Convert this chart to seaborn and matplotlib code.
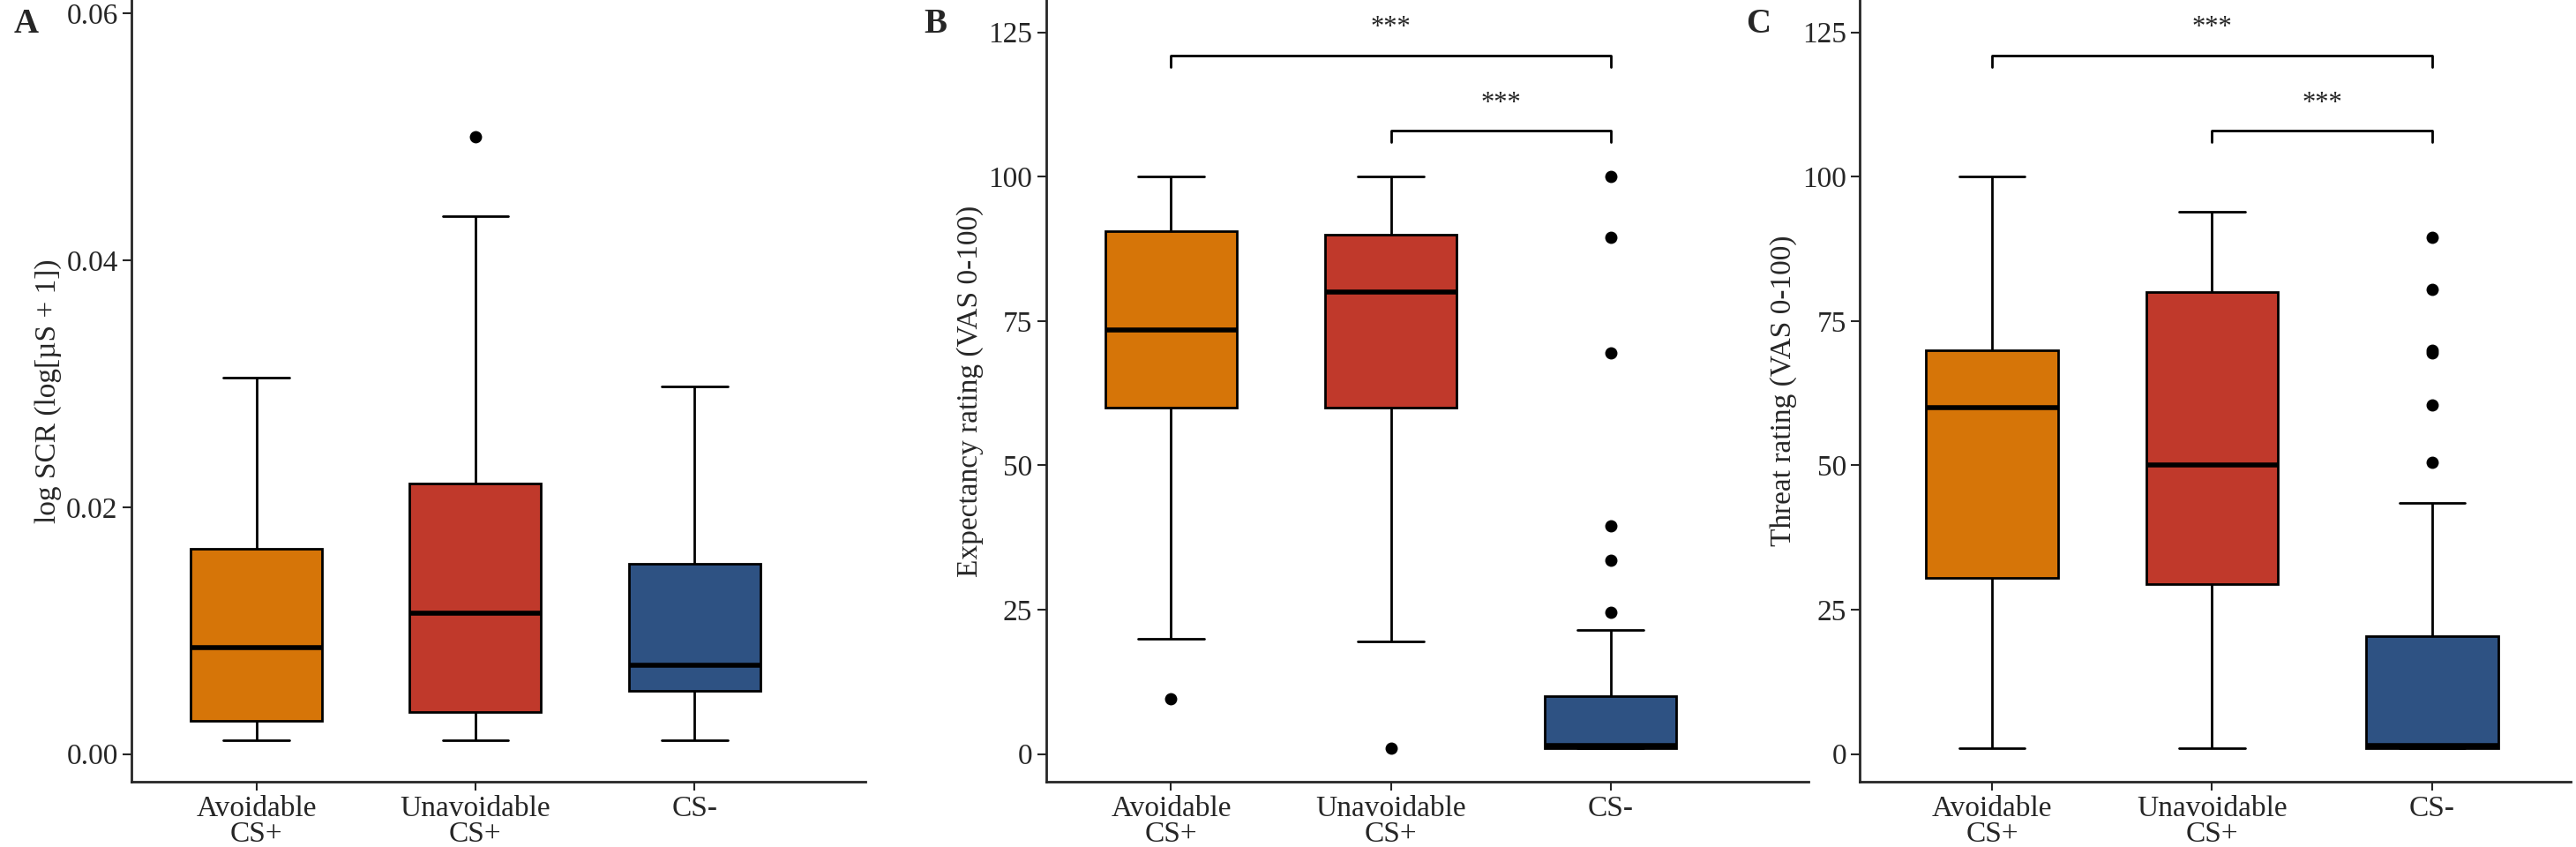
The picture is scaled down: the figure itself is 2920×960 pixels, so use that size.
import numpy as np
import pandas as pd
import seaborn as sns
import matplotlib.pyplot as plt

groups = ["Avoidable\nCS+", "Unavoidable\nCS+", "CS-"]
colors = ["#D67508", "#C0392B", "#2E5283"]

# (whisker low, q1, median, q3, whisker high, outliers)
scr_stats = [
    (0.0011, 0.0027, 0.0086, 0.0166, 0.0305, []),
    (0.0011, 0.0034, 0.0114, 0.0219, 0.0436, [0.0500]),
    (0.0011, 0.0051, 0.0072, 0.0154, 0.0298, []),
]
expect_stats = [
    (20.0, 60.0, 73.5, 90.5, 100.0, [9.5]),
    (19.5, 60.0, 80.0, 90.0, 100.0, [1.0]),
    (1.0, 1.0, 1.5, 10.0, 21.5, [24.5, 33.5, 39.5, 69.5, 89.5, 100.0]),
]
threat_stats = [
    (1.0, 30.5, 60.0, 70.0, 100.0, []),
    (1.0, 29.5, 50.0, 80.0, 94.0, []),
    (1.0, 1.0, 1.5, 20.5, 43.5, [50.5, 60.5, 69.5, 70.0, 80.5, 89.5]),
]


def rebuild(lo, q1, med, q3, hi, outliers):
    # sample whose linear-interpolated quartiles equal q1/med/q3
    low_out = sorted(v for v in outliers if v < lo)
    high_out = sorted(v for v in outliers if v > hi)
    k = max(len(low_out), len(high_out)) + 1
    lower = low_out + [lo] * (k - len(low_out)) + [q1]
    middle = [med] * (2 * k - 1) + [q3]
    upper = [hi] * (k - len(high_out)) + high_out
    return lower + middle + upper


def to_frame(stats):
    rows = []
    for g, s in zip(groups, stats):
        for v in rebuild(*s):
            rows.append({"group": g, "value": v})
    return pd.DataFrame(rows)


sns.set_style("white")
plt.rcParams["font.family"] = ["Liberation Serif", "DejaVu Serif"]

fig = plt.figure(figsize=(29.2, 9.6), dpi=100)
bottom, height = 0.077, 0.923
boxes = [(0.051, 0.285), (0.406, 0.296), (0.722, 0.276)]
axes = [fig.add_axes([l, bottom, w, height]) for l, w in boxes]
xlims = [(-0.57, 2.78), (-0.57, 2.9), (-0.6, 2.63)]

panels = [
    (scr_stats, "log SCR (log[µS + 1])", (-0.00225, 0.0611), [0, 0.02, 0.04, 0.06], "A"),
    (expect_stats, "Expectancy rating (VAS 0-100)", (-4.8, 130.6), [0, 25, 50, 75, 100, 125], "B"),
    (threat_stats, "Threat rating (VAS 0-100)", (-4.8, 130.6), [0, 25, 50, 75, 100, 125], "C"),
]

for ax, xl, (stats, ylab, ylim, yticks, letter) in zip(axes, xlims, panels):
    df = to_frame(stats)
    sns.boxplot(data=df, x="group", y="value", hue="group", palette=colors,
                legend=False, width=0.6, whis=1.5, saturation=1, ax=ax,
                linewidth=2, linecolor="black",
                medianprops=dict(linewidth=4, color="black"),
                flierprops=dict(marker="o", markerfacecolor="black",
                                markeredgecolor="black", markersize=9))
    ax.set_xlim(*xl)
    ax.set_ylim(*ylim)
    ax.set_yticks(yticks)
    if letter == "A":
        ax.set_yticklabels([f"{t:.2f}" for t in yticks])
    ax.set_xlabel("")
    ax.set_ylabel(ylab, fontsize=24)
    ax.tick_params(axis="both", labelsize=24, length=7, width=1.5,
                   direction="out", left=True, bottom=True, pad=4)
    for lbl in ax.get_xticklabels():
        lbl.set_linespacing(0.95)
    for sp in ["top", "right"]:
        ax.spines[sp].set_visible(False)
    for sp in ["left", "bottom"]:
        ax.spines[sp].set_linewidth(2)
    ax.text(-0.16, 0.99, letter, transform=ax.transAxes, fontsize=28,
            fontweight="bold", va="top", ha="left")
    if letter != "A":
        for x0, y in [(0, 121), (1, 108)]:
            ax.plot([x0, x0, 2, 2], [y - 2, y, y, y - 2], color="black", lw=2)
            ax.text((x0 + 2) / 2, y + 2.5, "***", ha="center", va="bottom", fontsize=22)

fig.savefig("out.png", dpi=100)
